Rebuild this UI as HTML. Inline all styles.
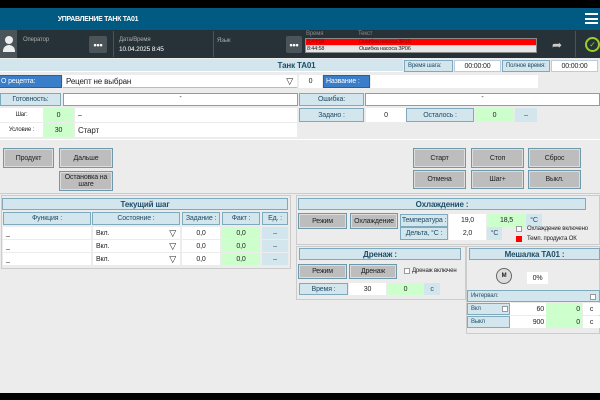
<!DOCTYPE html>
<html><head><meta charset="utf-8">
<style>
*{box-sizing:border-box;margin:0;padding:0}
body{width:600px;height:400px;overflow:hidden;background:#ececec;position:relative;font-family:"Liberation Sans Narrow","Liberation Sans",sans-serif;font-size:7px;color:#222;letter-spacing:-0.15px}
.a{position:absolute;display:flex;align-items:center;justify-content:center;white-space:nowrap}
.lb{background:#d3e5ed;border:1px solid #7fa9bd;color:#1f4e66}
.wh{background:#fff}
.gr{background:#ccffcc}
.bl{background:#3a7dc8;color:#fff;justify-content:flex-start;padding-left:2px;border:1px solid #2a5f9a}
.btn{background:#bdbdbd;border:1px solid #6f98ab;box-shadow:inset 0 0 0 1px #ddd;color:#222}
.hd{background:#d3e5ed;border:1px solid #7fa9bd;color:#1f4e66;font-weight:bold;font-size:8px}
.l{justify-content:flex-start;padding-left:3px}
.dk{color:#aaa;justify-content:flex-start}
.cb{background:#fff;border:1px solid #999;width:7px;height:7px}
</style></head><body>
<div class="a" style="left:0;top:0;width:600px;height:8px;background:#000"></div>
<div class="a" style="left:0;top:8px;width:600px;height:22px;background:#005a82"></div>
<div class="a" style="left:58px;top:12px;width:80px;height:14px;color:#fff;font-weight:bold;font-size:7px;letter-spacing:-0.3px">УПРАВЛЕНИЕ ТАНК ТА01</div>
<div class="a" style="left:585px;top:13px;width:13px;height:11px;flex-direction:column;justify-content:space-between"><div style="width:13px;height:2px;background:#fff"></div><div style="width:13px;height:2px;background:#fff"></div><div style="width:13px;height:2px;background:#fff"></div></div>

<div class="a" style="left:0;top:30px;width:600px;height:28px;background:#263238"></div>
<div class="a" style="left:0;top:30px;width:17px;height:28px;background:#4a5459;flex-direction:column"><div style="width:8px;height:8px;border-radius:50%;background:#eee"></div><div style="width:12px;height:7px;border-radius:6px 6px 0 0;background:#eee;margin-top:1px"></div></div>
<div class="a dk" style="left:23px;top:35px;width:60px;height:9px;font-size:6px">Оператор</div>
<div class="a" style="left:89px;top:36px;width:18px;height:17px;background:#4a5459;border-radius:2px;color:#fff;font-size:9px;font-weight:bold">•••</div>
<div class="a" style="left:113px;top:31px;width:1px;height:26px;background:#4a5459"></div>
<div class="a dk" style="left:119px;top:35px;width:60px;height:9px;font-size:6px">Дата/Время</div>
<div class="a" style="left:119px;top:45px;width:60px;height:9px;color:#fff;justify-content:flex-start;font-size:6.5px">10.04.2025 8:45</div>
<div class="a" style="left:213px;top:31px;width:1px;height:26px;background:#4a5459"></div>
<div class="a dk" style="left:217px;top:36px;width:30px;height:9px;font-size:6px">Язык</div>
<div class="a" style="left:286px;top:36px;width:16px;height:17px;background:#4a5459;border-radius:2px;color:#fff;font-size:9px;font-weight:bold;overflow:hidden">•••</div>
<div class="a dk" style="left:306px;top:30px;width:30px;height:7px;font-size:6px;color:#888">Время</div>
<div class="a dk" style="left:358px;top:30px;width:30px;height:7px;font-size:6px;color:#888">Текст</div>
<div class="a" style="left:305px;top:38px;width:232px;height:15px;background:#ccc;border:1px solid #888"></div>
<div class="a" style="left:306px;top:39px;width:230px;height:6px;background:#f00;color:#900;font-size:5.5px;justify-content:flex-start"><span style="position:absolute;left:1px">8:44:58</span><span style="position:absolute;left:53px">Ошибка насоса ЗР10</span></div>
<div class="a" style="left:306px;top:46px;width:230px;height:6px;background:#e6e6e6;color:#222;font-size:5.5px;justify-content:flex-start"><span style="position:absolute;left:1px">8:44:58</span><span style="position:absolute;left:53px">Ошибка насоса ЗР06</span></div>
<div class="a" style="left:548px;top:37px;width:18px;height:16px;color:#ccc;font-size:12px">&#x27A6;</div>
<div class="a" style="left:575px;top:31px;width:1px;height:26px;background:#4a5459"></div>
<div class="a" style="left:585px;top:37px;width:15px;height:15px;border:2px solid #9acd32;border-radius:50%;color:#9acd32;font-size:8px">✓</div>

<div class="a" style="left:0;top:59px;width:403px;height:13px;background:#d3e5ed;border-bottom:1px solid #fff;color:#1f4e66;font-weight:bold;font-size:8px;padding-left:190px">Танк ТА01</div>
<div class="a lb l" style="left:404px;top:60px;width:49px;height:12px;font-size:6px">Время шага:</div>
<div class="a wh" style="left:454px;top:60px;width:47px;height:12px;border:1px solid #bcd">00:00:00</div>
<div class="a lb l" style="left:502px;top:60px;width:48px;height:12px;font-size:6px">Полное время:</div>
<div class="a wh" style="left:551px;top:60px;width:47px;height:12px;border:1px solid #bcd">00:00:00</div>

<div class="a bl" style="left:-2px;top:75px;width:64px;height:13px">О рецепта:</div>
<div class="a wh l" style="left:63px;top:75px;width:234px;height:13px;font-size:8px;justify-content:space-between;padding-right:4px;border-bottom:1px solid #bbb"><span>Рецепт не выбран</span><span style="font-size:9px">▽</span></div>
<div class="a wh" style="left:299px;top:75px;width:23px;height:13px">0</div>
<div class="a bl" style="left:323px;top:75px;width:47px;height:13px">Название :</div>
<div class="a wh" style="left:371px;top:75px;width:167px;height:13px"></div>

<div class="a lb" style="left:0;top:93px;width:61px;height:13px">Готовность:</div>
<div class="a wh" style="left:63px;top:93px;width:235px;height:13px;border:1px solid #999;align-items:flex-start">-</div>
<div class="a lb" style="left:299px;top:93px;width:65px;height:13px">Ошибка:</div>
<div class="a wh" style="left:365px;top:93px;width:235px;height:13px;border:1px solid #999;align-items:flex-start">-</div>

<div class="a wh" style="left:0;top:108px;width:43px;height:14px;font-size:6px">Шаг:</div>
<div class="a gr" style="left:44px;top:108px;width:29px;height:14px">0</div>
<div class="a wh l" style="left:75px;top:108px;width:222px;height:14px">–</div>
<div class="a lb" style="left:299px;top:108px;width:65px;height:14px">Задано :</div>
<div class="a wh" style="left:366px;top:108px;width:40px;height:14px">0</div>
<div class="a lb" style="left:406px;top:108px;width:68px;height:14px">Осталось :</div>
<div class="a gr" style="left:475px;top:108px;width:39px;height:14px">0</div>
<div class="a lb" style="left:515px;top:108px;width:22px;height:14px;border:none">–</div>

<div class="a wh" style="left:0;top:123px;width:43px;height:14px;font-size:6px">Условие :</div>
<div class="a gr" style="left:44px;top:123px;width:29px;height:14px">30</div>
<div class="a wh l" style="left:75px;top:123px;width:222px;height:14px;font-size:8px">Старт</div>
<div class="a" style="left:0;top:139px;width:600px;height:1px;background:#fff"></div>

<div class="a btn" style="left:3px;top:148px;width:51px;height:20px">Продукт</div>
<div class="a btn" style="left:59px;top:148px;width:54px;height:20px">Дальше</div>
<div class="a btn" style="left:59px;top:171px;width:54px;height:20px;white-space:normal;text-align:center;line-height:7px">Остановка на шаге</div>
<div class="a btn" style="left:413px;top:148px;width:53px;height:20px">Старт</div>
<div class="a btn" style="left:471px;top:148px;width:53px;height:20px">Стоп</div>
<div class="a btn" style="left:528px;top:148px;width:53px;height:20px">Сброс</div>
<div class="a btn" style="left:413px;top:170px;width:53px;height:19px">Отмена</div>
<div class="a btn" style="left:471px;top:170px;width:53px;height:19px">Шаг+</div>
<div class="a btn" style="left:528px;top:170px;width:53px;height:19px">Выкл.</div>
<div class="a" style="left:0;top:193px;width:600px;height:1px;background:#ccc"></div>

<div class="a" style="left:1px;top:195px;width:290px;height:74px;border:1px solid #ccc"></div>
<div class="a hd" style="left:2px;top:198px;width:286px;height:12px">Текущий шаг</div>
<div class="a lb" style="left:3px;top:212px;width:88px;height:13px">Функция :</div>
<div class="a lb" style="left:92px;top:212px;width:88px;height:13px">Состояние :</div>
<div class="a lb" style="left:182px;top:212px;width:38px;height:13px">Задание :</div>
<div class="a lb" style="left:222px;top:212px;width:38px;height:13px">Факт :</div>
<div class="a lb" style="left:262px;top:212px;width:26px;height:13px">Ед. :</div>

<div class="a wh l" style="left:3px;top:227px;width:88px;height:12px">_</div>
<div class="a wh l" style="left:93px;top:227px;width:87px;height:12px;justify-content:space-between;padding-right:4px"><span>Вкл.</span><span style="font-size:9px">▽</span></div>
<div class="a wh" style="left:182px;top:227px;width:38px;height:12px">0,0</div>
<div class="a gr" style="left:222px;top:227px;width:38px;height:12px">0,0</div>
<div class="a lb" style="left:262px;top:227px;width:26px;height:12px;border:none">–</div>

<div class="a wh l" style="left:3px;top:240px;width:88px;height:12px">_</div>
<div class="a wh l" style="left:93px;top:240px;width:87px;height:12px;justify-content:space-between;padding-right:4px"><span>Вкл.</span><span style="font-size:9px">▽</span></div>
<div class="a wh" style="left:182px;top:240px;width:38px;height:12px">0,0</div>
<div class="a gr" style="left:222px;top:240px;width:38px;height:12px">0,0</div>
<div class="a lb" style="left:262px;top:240px;width:26px;height:12px;border:none">–</div>

<div class="a wh l" style="left:3px;top:253px;width:88px;height:12px">_</div>
<div class="a wh l" style="left:93px;top:253px;width:87px;height:12px;justify-content:space-between;padding-right:4px"><span>Вкл.</span><span style="font-size:9px">▽</span></div>
<div class="a wh" style="left:182px;top:253px;width:38px;height:12px">0,0</div>
<div class="a gr" style="left:222px;top:253px;width:38px;height:12px">0,0</div>
<div class="a lb" style="left:262px;top:253px;width:26px;height:12px;border:none">–</div>

<div class="a" style="left:296px;top:195px;width:304px;height:50px;border:1px solid #ccc"></div>
<div class="a hd" style="left:298px;top:198px;width:288px;height:12px">Охлаждение :</div>
<div class="a btn" style="left:298px;top:213px;width:49px;height:16px">Режим</div>
<div class="a btn" style="left:350px;top:213px;width:48px;height:16px">Охлаждение</div>
<div class="a lb" style="left:400px;top:214px;width:48px;height:13px">Температура :</div>
<div class="a wh" style="left:449px;top:214px;width:37px;height:13px">19,0</div>
<div class="a gr" style="left:488px;top:214px;width:37px;height:13px">18,5</div>
<div class="a lb" style="left:526px;top:214px;width:16px;height:13px;border:none">°C</div>
<div class="a lb" style="left:400px;top:227px;width:48px;height:13px">Дельта, °C :</div>
<div class="a wh" style="left:449px;top:227px;width:37px;height:13px">2,0</div>
<div class="a lb" style="left:487px;top:227px;width:15px;height:13px;border:none">°C</div>
<div class="a cb" style="left:516px;top:226px;width:6px;height:6px"></div>
<div class="a l" style="left:524px;top:225px;width:70px;height:8px;font-size:6px">Охлаждение включено</div>
<div class="a" style="left:516px;top:236px;width:6px;height:6px;background:#f00"></div>
<div class="a l" style="left:524px;top:235px;width:70px;height:8px;font-size:6px">Темп. продукта ОК</div>

<div class="a" style="left:296px;top:246px;width:170px;height:54px;border:1px solid #ccc"></div>
<div class="a hd" style="left:299px;top:248px;width:162px;height:12px">Дренаж :</div>
<div class="a btn" style="left:298px;top:264px;width:49px;height:15px">Режим</div>
<div class="a btn" style="left:349px;top:264px;width:48px;height:15px">Дренаж</div>
<div class="a cb" style="left:404px;top:268px;width:6px;height:6px"></div>
<div class="a l" style="left:409px;top:267px;width:55px;height:8px;font-size:6px">Дренаж включен</div>
<div class="a lb" style="left:299px;top:283px;width:49px;height:12px">Время :</div>
<div class="a wh" style="left:349px;top:283px;width:37px;height:12px">30</div>
<div class="a gr" style="left:387px;top:283px;width:37px;height:12px">0</div>
<div class="a lb" style="left:424px;top:283px;width:16px;height:12px;border:none">с</div>

<div class="a" style="left:466px;top:246px;width:134px;height:88px;border:1px solid #ccc"></div>
<div class="a hd" style="left:469px;top:248px;width:131px;height:12px">Мешалка ТА01 :</div>
<div class="a" style="left:496px;top:268px;width:16px;height:16px;border-radius:50%;background:#ddd;border:1px solid #666;font-size:6px;font-weight:bold">M</div>
<div class="a wh" style="left:527px;top:272px;width:21px;height:12px">0%</div>
<div class="a lb l" style="left:467px;top:290px;width:133px;height:12px;font-size:6px">Интервал:</div>
<div class="a cb" style="left:590px;top:294px;width:6px;height:6px"></div>
<div class="a lb l" style="left:467px;top:303px;width:43px;height:12px;font-size:6px">Вкл</div>
<div class="a cb" style="left:502px;top:306px;width:6px;height:6px"></div>
<div class="a wh" style="left:510px;top:303px;width:36px;height:12px;justify-content:flex-end;padding-right:2px">60</div>
<div class="a gr" style="left:546px;top:303px;width:36px;height:12px;justify-content:flex-end;padding-right:2px">0</div>
<div class="a wh" style="left:583px;top:303px;width:17px;height:12px">с</div>
<div class="a lb l" style="left:467px;top:316px;width:43px;height:12px;font-size:6px">Выкл</div>
<div class="a wh" style="left:510px;top:316px;width:36px;height:12px;justify-content:flex-end;padding-right:2px">900</div>
<div class="a gr" style="left:546px;top:316px;width:36px;height:12px;justify-content:flex-end;padding-right:2px">0</div>
<div class="a wh" style="left:583px;top:316px;width:17px;height:12px">с</div>

<div class="a" style="left:0;top:393px;width:600px;height:7px;background:#000"></div>
</body></html>
